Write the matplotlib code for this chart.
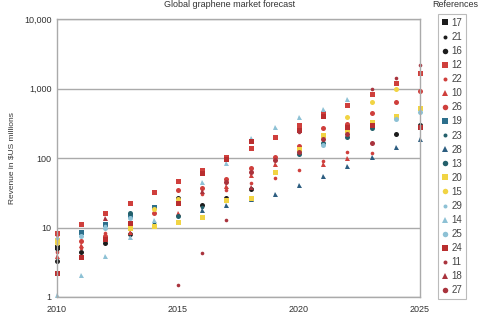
import numpy as np
import matplotlib
matplotlib.use("Agg")
import matplotlib.pyplot as plt
from matplotlib.ticker import FixedLocator, FuncFormatter

plt.rcParams['font.family'] = ['Liberation Sans', 'DejaVu Sans']

nan = np.nan
years = list(range(2010, 2026))

#          2010  2011  2012  2013  2014  2015  2016  2017  2018  2019  2020  2021  2022  2023  2024  2025
s17 = [5.2, nan, nan, nan, nan, nan, nan, nan, nan, nan, nan, nan, nan, nan, nan, nan]
s21 = [4.8, nan, 6.3, nan, nan, nan, nan, nan, nan, nan, nan, nan, nan, nan, nan, nan]
s16 = [3.3, 4.4, 6.0, 8.1, nan, 27, 21, 27, 36, nan, nan, nan, nan, nan, 220, 300]
s12 = [8.4, 11.2, 16, 22.6, 32, 46, 67, 103, 139, 200, 300, 445, 580, 830, 1200, 1650]
s22 = [4.4, 5.1, 8.4, nan, nan, nan, 30, 35, 44, 52, 67, 90, 122, 118, nan, nan]
s10 = [3.9, 5.6, nan, 8.6, nan, 16, nan, 39, 57, 82, nan, 82, 100, nan, nan, nan]
s26 = [8.0, 6.4, 7.5, nan, 16, 35, 37, 50, 72, 103, 150, 270, 310, 445, 640, 920]
s19 = [nan, 8.6, 11.2, 15, 20, nan, nan, nan, nan, nan, nan, nan, nan, nan, nan, nan]
s23 = [nan, nan, nan, nan, 11.6, nan, 20, nan, nan, nan, nan, nan, nan, nan, nan, nan]
s28 = [nan, nan, nan, nan, nan, nan, 18, 21, 26, 30, 41, 55, 77, 103, 143, 188]
s13 = [nan, nan, nan, 16, nan, 14.6, nan, nan, nan, nan, 114, 165, 200, 270, nan, nan]
s20 = [6.6, nan, nan, 9.8, 10.5, 12, 14, 25, 27, 63, 135, 213, 250, 330, 400, 525]
s15 = [6.0, nan, nan, nan, 18.4, 25.6, nan, nan, nan, nan, nan, nan, 390, 640, 1000, nan]
s29 = [7.0, nan, 10.5, nan, nan, nan, nan, nan, nan, nan, nan, nan, nan, nan, nan, nan]
s14 = [1.07, 2.07, 3.9, 7.3, 12.8, nan, 45, 84, 194, 280, 390, 510, 700, nan, nan, nan]
s25 = [nan, 7.5, 9.8, 13.7, nan, nan, nan, nan, nan, nan, nan, 154, nan, nan, 360, 460]
s24 = [2.2, 3.8, 6.8, 11.6, nan, 22.6, 60, 96, 176, nan, 250, 400, 280, 300, nan, 280]
s11 = [nan, nan, nan, nan, nan, 1.5, 4.3, 12.8, nan, nan, 237, nan, nan, 980, 1400, 2150]
s18 = [nan, nan, 13.7, nan, nan, nan, 33, nan, 38, nan, nan, nan, nan, nan, nan, nan]
s27 = [nan, nan, nan, nan, nan, nan, nan, 45, 63, 93, 122, 188, 220, 165, nan, nan]

labels = ['17', '21', '16', '12', '22', '10', '26', '19', '23', '28',
          '13', '20', '15', '29', '14', '25', '24', '11', '18', '27']
values = [s17, s21, s16, s12, s22, s10, s26, s19, s23, s28,
          s13, s20, s15, s29, s14, s25, s24, s11, s18, s27]

black, red, dred = '#1c1c1c', '#cf3f3c', '#a9333d'
teal, navy, dteal = '#2d6f8c', '#2c5d80', '#23606b'
yellow, lblue = '#f1d443', '#8dc1d5'
# 'dot' = small round marker used by some references
styles = [(black, 's'), (black, 'dot'), (black, 'o'), (red, 's'), (red, 'dot'),
          (red, '^'), (red, 'o'), (teal, 's'), (dteal, 'dot'), (navy, '^'),
          (dteal, 'o'), (yellow, 's'), (yellow, 'o'), (lblue, 'dot'), (lblue, '^'),
          (lblue, 'o'), ('#b92e2f', 's'), (dred, 'dot'), (dred, '^'), (dred, 'o')]

fig = plt.figure(figsize=(4.8, 3.2), dpi=100)
ax = fig.add_axes([57/480, 1 - 297/320, 363/480, 278/320])

handles = []
for lab, vals, (col, mk) in zip(labels, values, styles):
    if mk == 'dot':
        mk, ms = 'o', 2.6
    else:
        ms = 3.6
    h, = ax.plot(years, vals, linestyle='none', marker=mk, color=col,
                 markersize=ms, markeredgewidth=0, clip_on=False, label=lab)
    handles.append(h)

ax.set_yscale('log')
ax.set_ylim(1, 10000)
ax.set_xlim(2010, 2025)
ax.yaxis.set_major_locator(FixedLocator([1, 10, 100, 1000, 10000]))
ax.yaxis.set_minor_locator(FixedLocator([]))
ax.yaxis.set_major_formatter(FuncFormatter(lambda v, p: f'{int(v):,}'))
ax.set_xticks([2010, 2015, 2020, 2025])
ax.tick_params(length=0, labelsize=6.5, colors='#333333', pad=4)
ax.tick_params(axis='x', pad=6)
ax.grid(axis='y', color='#aaaaaa', linewidth=1)
ax.set_axisbelow(True)
for sp in ax.spines.values():
    sp.set_color('#aaaaaa')
    sp.set_linewidth(1)
ax.set_ylabel('Revenue in $US millions', fontsize=6, color='#333333', labelpad=6)

fig.text(230/480, 1.0, 'Global graphene market forecast', ha='center', va='top',
         fontsize=6.5, color='#333333')
fig.text(455/480, 1.0, 'References', ha='center', va='top',
         fontsize=6.5, color='#333333')

leg = fig.legend(handles=handles, loc='upper left',
                 bbox_to_anchor=(438/480, 1 - 14/320), fontsize=7,
                 frameon=True, fancybox=False, edgecolor='#aaaaaa',
                 handlelength=0.6, handletextpad=0.4, labelspacing=0.42,
                 borderpad=0.4, borderaxespad=0, markerscale=1.1)
leg.get_frame().set_linewidth(0.8)
for t in leg.get_texts():
    t.set_color('#444444')

fig.savefig('out.png', dpi=100)
